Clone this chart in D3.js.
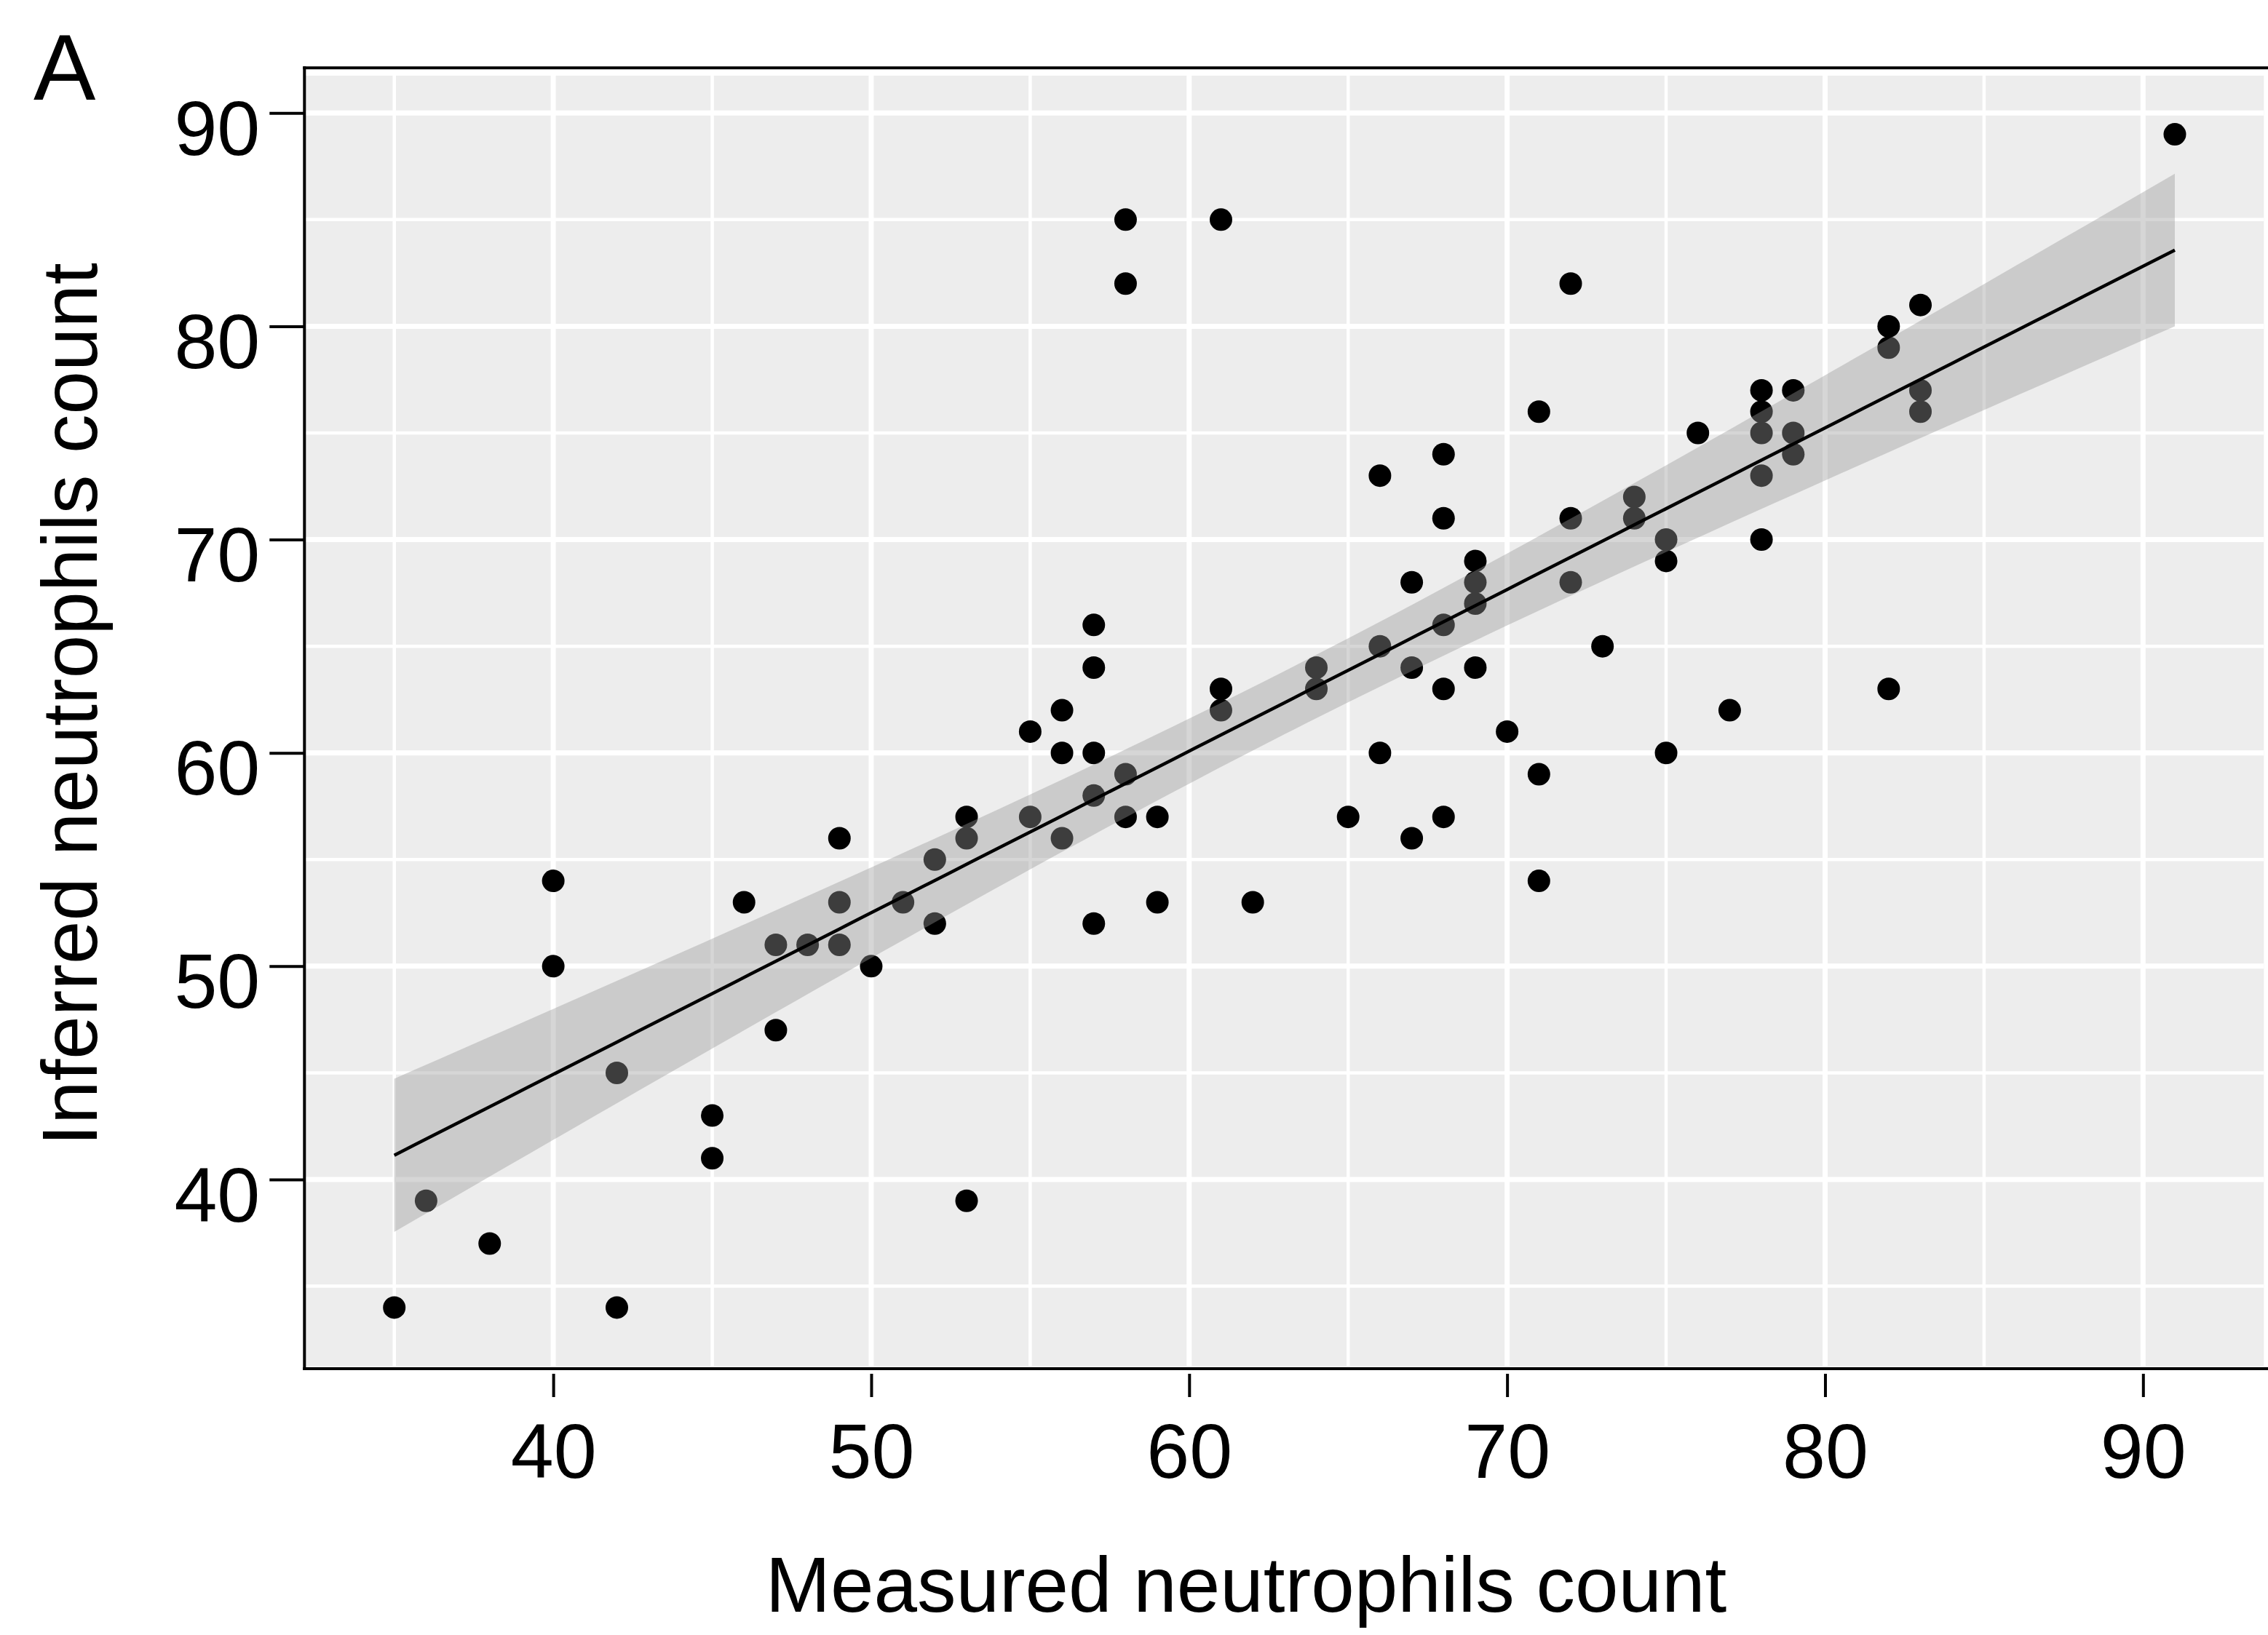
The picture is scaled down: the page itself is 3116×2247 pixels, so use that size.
<!DOCTYPE html>
<html>
<head>
<meta charset="utf-8">
<script src="https://cdn.jsdelivr.net/npm/d3@7"></script>
<style>
  html, body { margin: 0; padding: 0; background: #fff; }
  svg { display: block; }
  text { font-family: "Liberation Sans", Arial, Helvetica, sans-serif; fill: #000; }
</style>
</head>
<body>
<script>
// ---- data ----
const measured = [35,36,38,40,40,42,42,45,45,46,47,47,48,49,49,49,50,51,52,52,53,53,53,55,55,56,56,56,57,57,57,57,57,58,58,58,58,59,59,61,61,61,62,64,64,65,66,66,66,67,67,67,68,68,68,68,68,69,69,69,69,70,71,71,71,72,72,72,73,74,74,75,75,75,76,77,78,78,78,78,78,79,79,79,82,82,82,83,83,83,91];
const inferred = [34,39,37,54,50,45,34,43,41,53,51,47,51,56,53,51,50,53,55,52,57,56,39,61,57,62,60,56,66,64,60,58,52,85,82,59,57,57,53,85,63,62,53,64,63,57,73,65,60,68,64,56,74,71,66,63,57,69,68,67,64,61,76,59,54,82,71,68,65,72,71,70,69,60,75,62,77,76,75,73,70,77,75,74,80,79,63,81,77,76,89];
const xTicks = [40,50,60,70,80,90];
const yTicks = [40,50,60,70,80,90];
const xMinor = [35,45,55,65,75,85];
const yMinor = [35,45,55,65,75,85];
const xTitle = "Measured neutrophils count";
const yTitle = "Inferred neutrophils count";
const panelTag = "A";
const tCrit = 1.987; // 95% t quantile, df = n - 2

// ---- layout ----
const W = 3116, H = 2247;
const svg = d3.select("body").append("svg").attr("width", W).attr("height", H);
svg.append("rect").attr("width", W).attr("height", H).attr("fill", "#fff");

const xExt = d3.extent(measured), yExt = d3.extent(inferred);
const xPad = (xExt[1]-xExt[0])*0.05, yPad = (yExt[1]-yExt[0])*0.05;
const x = d3.scaleLinear().domain([xExt[0]-xPad, xExt[1]+xPad]).range([419.4, 3110.3]);
const y = d3.scaleLinear().domain([yExt[0]-yPad, yExt[1]+yPad]).range([1877.5, 104]);
const [px0, px1] = x.range(), [py0, py1] = y.range();

// panel background
svg.append("rect").attr("x", px0).attr("y", py1).attr("width", px1-px0).attr("height", py0-py1).attr("fill", "#EDEDED");

// grid
const g = svg.append("g");
g.selectAll(".vmin").data(xMinor).join("line").attr("x1", d=>x(d)).attr("x2", d=>x(d)).attr("y1", py1).attr("y2", py0).attr("stroke","#fff").attr("stroke-width",4.5);
g.selectAll(".hmin").data(yMinor).join("line").attr("y1", d=>y(d)).attr("y2", d=>y(d)).attr("x1", px0).attr("x2", px1).attr("stroke","#fff").attr("stroke-width",4.5);
g.selectAll(".vmaj").data(xTicks).join("line").attr("x1", d=>x(d)).attr("x2", d=>x(d)).attr("y1", py1).attr("y2", py0).attr("stroke","#fff").attr("stroke-width",7);
g.selectAll(".hmaj").data(yTicks).join("line").attr("y1", d=>y(d)).attr("y2", d=>y(d)).attr("x1", px0).attr("x2", px1).attr("stroke","#fff").attr("stroke-width",7);

// points
const pts = measured.map((m,i)=>({x:m, y:inferred[i]}));
svg.append("g").selectAll("circle").data(pts).join("circle")
  .attr("cx", d=>x(d.x)).attr("cy", d=>y(d.y)).attr("r", 15.5).attr("fill", "#000");

// linear fit + 95% confidence band
const n = pts.length;
const xbar = d3.mean(measured), ybar = d3.mean(inferred);
let sxx = 0, sxy = 0;
pts.forEach(p=>{ sxx += (p.x-xbar)**2; sxy += (p.x-xbar)*(p.y-ybar); });
const b = sxy/sxx, a = ybar - b*xbar;
let sse = 0; pts.forEach(p=>{ sse += (p.y - (a+b*p.x))**2; });
const s = Math.sqrt(sse/(n-2));
const fit = d3.range(0, 81).map(i=>{
  const xv = xExt[0] + (xExt[1]-xExt[0])*i/80;
  const yh = a + b*xv;
  const se = s*Math.sqrt(1/n + (xv-xbar)**2/sxx);
  return {x:xv, y:yh, lo:yh - tCrit*se, hi:yh + tCrit*se};
});
svg.append("path").datum(fit)
  .attr("d", d3.area().x(d=>x(d.x)).y0(d=>y(d.lo)).y1(d=>y(d.hi)))
  .attr("fill", "#999999").attr("fill-opacity", 0.4);
svg.append("path").datum(fit)
  .attr("d", d3.line().x(d=>x(d.x)).y(d=>y(d.y)))
  .attr("fill", "none").attr("stroke", "#000").attr("stroke-width", 4.5);

// axis lines
svg.append("line").attr("x1", 418.3).attr("x2", 418.3).attr("y1", 91.3).attr("y2", 1883).attr("stroke","#000").attr("stroke-width",4);
svg.append("line").attr("x1", 416.3).attr("x2", W).attr("y1", 93.3).attr("y2", 93.3).attr("stroke","#000").attr("stroke-width",4);
svg.append("line").attr("x1", 416.3).attr("x2", W).attr("y1", 1881).attr("y2", 1881).attr("stroke","#000").attr("stroke-width",4);

// y axis
const ya = svg.append("g").attr("transform", "translate(418.3,0)")
  .call(d3.axisLeft(y).tickValues(yTicks).tickSize(48).tickPadding(13).tickFormat(d3.format("d")));
ya.select(".domain").remove();
ya.selectAll(".tick line").attr("stroke","#000").attr("stroke-width",4);
ya.selectAll(".tick text").attr("font-size",106).attr("dy", 57).attr("fill","#000")
  .style("font-family", '"Liberation Sans", Arial, sans-serif');

// x axis
const xa = svg.append("g").attr("transform", "translate(0,1888)")
  .call(d3.axisBottom(x).tickValues(xTicks).tickSize(32).tickFormat(d3.format("d")));
xa.select(".domain").remove();
xa.selectAll(".tick line").attr("stroke","#000").attr("stroke-width",4);
xa.selectAll(".tick text").attr("font-size",106).attr("y", 143).attr("dy", 0).attr("fill","#000")
  .style("font-family", '"Liberation Sans", Arial, sans-serif');

// titles
svg.append("text").attr("x", 1712).attr("y", 2215).attr("text-anchor","middle").attr("font-size",107).text(xTitle);
svg.append("text").attr("transform","translate(133,968) rotate(-90)").attr("text-anchor","middle").attr("font-size",107).text(yTitle);
svg.append("text").attr("x", 46).attr("y", 137).attr("font-size",128).text(panelTag);
</script>
</body>
</html>
